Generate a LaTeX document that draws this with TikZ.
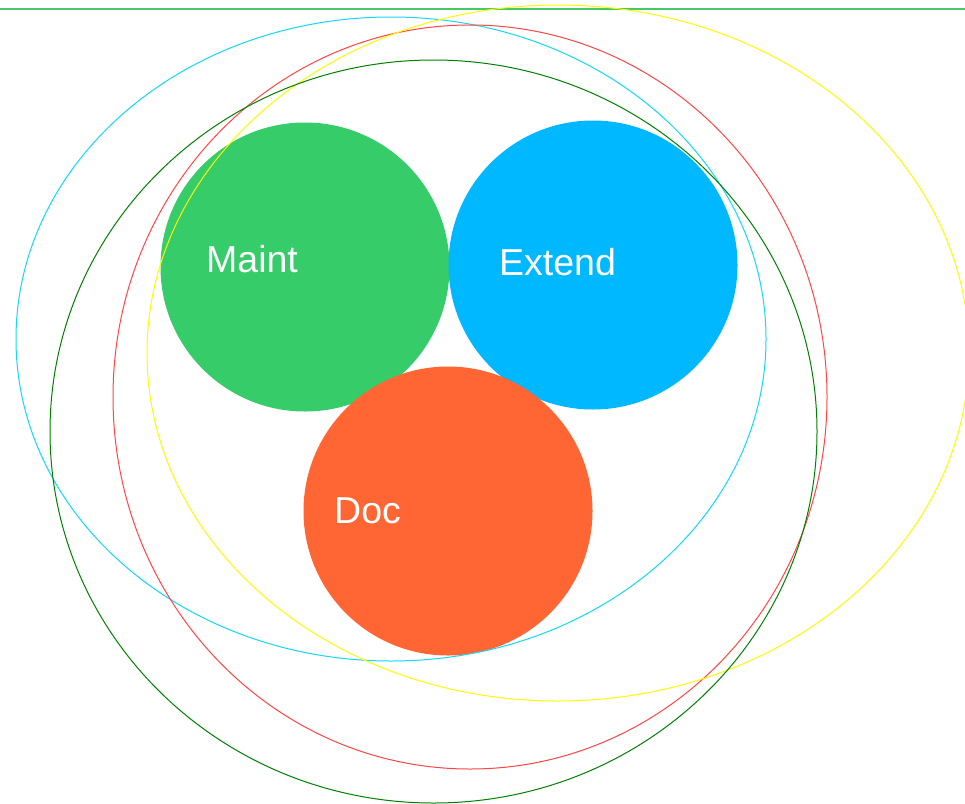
\documentclass[tikz,border=0pt]{standalone}
\usepackage{fontspec}
\setmainfont{Liberation Sans}
\definecolor{maintgreen}{RGB}{54,204,106}
\definecolor{extendblue}{RGB}{0,184,255}
\definecolor{docorange}{RGB}{255,102,51}
\definecolor{ringcyan}{RGB}{20,215,250}
\definecolor{ringred}{RGB}{255,70,70}
\definecolor{ringyellow}{RGB}{255,250,0}
\definecolor{ringgreen}{RGB}{0,128,0}
\definecolor{topline}{RGB}{70,200,100}
\begin{document}
\begin{tikzpicture}[x=1pt,y=-1pt]
      \tikzset{blob/.style={circle, inner sep=0pt, minimum size=289pt},
               blobtext/.style={anchor=base west, inner sep=0pt, text=white, font=\fontsize{37.5}{40}\selectfont},
               ring/.style={line width=1pt}}
      \useasboundingbox (0,0) rectangle (965,803);
      \fill[white] (0,0) rectangle (965,803);
%% Top rule
      \coordinate (tl) at (0,9);
      \coordinate (tr) at (965,9);
      \draw[topline, line width=1.6pt] (tl) -- (tr);
%% Circles
      	\node[blob, fill=maintgreen] (maint) at (305,267) {};
      	\node[blob, fill=extendblue] (extend) at (593,265) {};
    	\node[blob, fill=docorange] (doc) at (448,511) {};
%% Labels
		\node[blobtext] (maintlabel) at (206,272) {Maint};
		\node[blobtext] (extendlabel) at (499,275) {Extend};
		\node[blobtext] (doclabel) at (334,523) {Doc};
%% Rings
		\draw[ring, ringcyan] (391,339) ellipse [x radius=375, y radius=322];
		\draw[ring, ringred] (470,397) ellipse [x radius=357, y radius=372];
		\draw[ring, ringyellow] (558,353) ellipse [x radius=411, y radius=348];
		\draw[ring, ringgreen] (433.5,431.5) ellipse [x radius=383.5, y radius=371.5];
	\end{tikzpicture}
\end{document}
